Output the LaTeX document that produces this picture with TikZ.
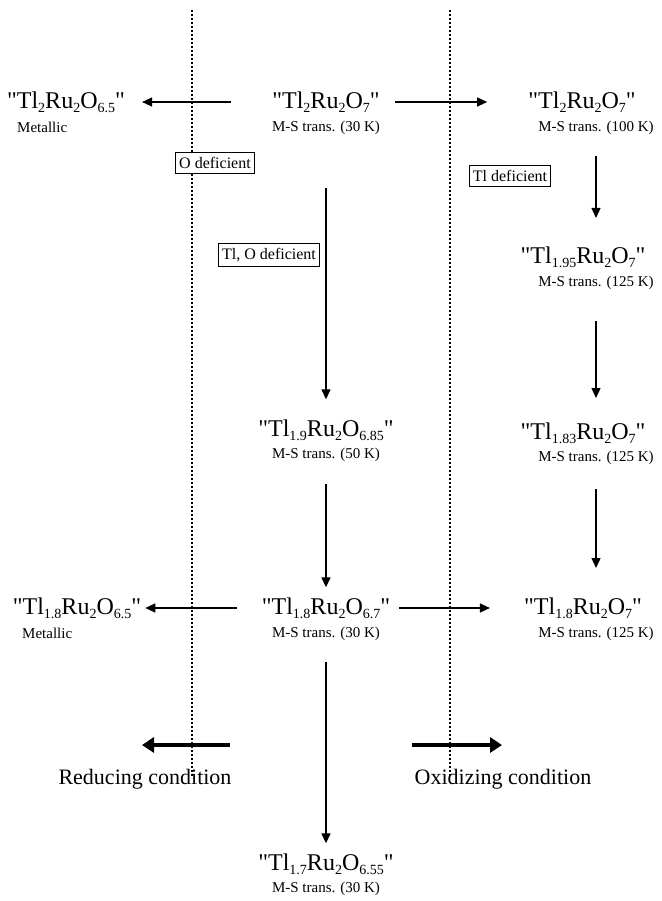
\documentclass[tikz,border=0pt]{standalone}
\usepackage{fontspec}
\setmainfont{Liberation Serif}[Ligatures=TeXOff]
\usetikzlibrary{arrows.meta}
\newcommand{\ix}[1]{\raisebox{-.35ex}{\fontsize{14}{14}\selectfont #1}}

\begin{document}
\begin{tikzpicture}[x=1pt,y=-1pt,
  cmpd/.style={inner sep=0pt, text height=17pt, text depth=4pt, font=\fontsize{24}{28}\selectfont},
  note/.style={inner sep=0pt, text height=10pt, text depth=3pt, font=\fontsize{15}{18}\selectfont},
  tag/.style={draw, fill=white, line width=1pt, inner xsep=3.5pt, inner ysep=5pt, font=\fontsize{16}{19}\selectfont},
  cond/.style={inner sep=0pt, font=\fontsize{22}{26}\selectfont},
  arr/.style={line width=1.3pt, -{Triangle[length=10pt,width=9pt]}},
  fat/.style={line width=4.5pt, -{Triangle[length=12pt,width=15pt]}},
  guide/.style={line width=1.5pt, dash pattern=on 2.2pt off 1.8pt}]
\useasboundingbox (0,0) rectangle (661,901);

% dotted borders
\draw[guide] (192,10) -- (192,778);
\draw[guide] (450,10) -- (450,778);

% left column
\node[cmpd] (l0) at (66,102) {"Tl\ix{2}Ru\ix{2}O\ix{6.5}"};
\node[note, anchor=west] (l0s) at (17,129) {Metallic};
\node[cmpd] (l1) at (77,608) {"Tl\ix{1.8}Ru\ix{2}O\ix{6.5}"};
\node[note, anchor=west] (l1s) at (22,635) {Metallic};

% center column
\node[cmpd] (c0) at (326,102) {"Tl\ix{2}Ru\ix{2}O\ix{7}"};
\node[note] (c0s) at (326,128) {M-S trans. (30 K)};
\node[cmpd] (c1) at (326,430) {"Tl\ix{1.9}Ru\ix{2}O\ix{6.85}"};
\node[note] (c1s) at (326,455) {M-S trans. (50 K)};
\node[cmpd] (c2) at (326,608) {"Tl\ix{1.8}Ru\ix{2}O\ix{6.7}"};
\node[note] (c2s) at (326,634) {M-S trans. (30 K)};
\node[cmpd] (c3) at (326,864) {"Tl\ix{1.7}Ru\ix{2}O\ix{6.55}"};
\node[note] (c3s) at (326,889) {M-S trans. (30 K)};

% right column
\node[cmpd] (r0) at (582,102) {"Tl\ix{2}Ru\ix{2}O\ix{7}"};
\node[note] (r0s) at (596,128) {M-S trans. (100 K)};
\node[cmpd] (r1) at (583,257) {"Tl\ix{1.95}Ru\ix{2}O\ix{7}"};
\node[note] (r1s) at (596,283) {M-S trans. (125 K)};
\node[cmpd] (r2) at (583,433) {"Tl\ix{1.83}Ru\ix{2}O\ix{7}"};
\node[note] (r2s) at (596,458) {M-S trans. (125 K)};
\node[cmpd] (r3) at (583,608) {"Tl\ix{1.8}Ru\ix{2}O\ix{7}"};
\node[note] (r3s) at (596,634) {M-S trans. (125 K)};

% boxed remarks
\node[tag] (bO) at (215,163) {O deficient};
\node[tag] (bTlO) at (269,255) {Tl, O deficient};
\node[tag] (bTl) at (510,176) {Tl deficient};

% conditions
\node[cond] (red) at (145,779) {Reducing condition};
\node[cond] (ox) at (503,779) {Oxidizing condition};
\coordinate (redA) at (230,745);
\coordinate (redB) at (142,745);
\coordinate (oxA) at (412,745);
\coordinate (oxB) at (502,745);
\draw[fat] (redA) -- (redB);
\draw[fat] (oxA) -- (oxB);

% horizontal steps
\draw[arr, shorten <=41pt, shorten >=17pt] (c0) -- (l0);
\draw[arr, shorten <=15pt, shorten >=41pt] (c0) -- (r0);
\draw[arr, shorten <=25pt, shorten >=4pt] (c2) -- (l1);
\draw[arr, shorten <=9pt, shorten >=34pt] (c2) -- (r3);

% vertical steps
\draw[arr, shorten <=53pt, shorten >=20pt] (c0s) -- (c1);
\draw[arr, shorten <=22pt, shorten >=10pt] (c1s) -- (c2);
\draw[arr, shorten <=21pt, shorten >=10pt] (c2s) -- (c3);
\draw[arr, shorten <=21pt, shorten >=39pt] (r0s) -- (r0s |- r1);
\draw[arr, shorten <=31pt, shorten >=35pt] (r1s) -- (r1s |- r2);
\draw[arr, shorten <=24pt, shorten >=40pt] (r2s) -- (r2s |- r3);

\end{tikzpicture}
\end{document}
